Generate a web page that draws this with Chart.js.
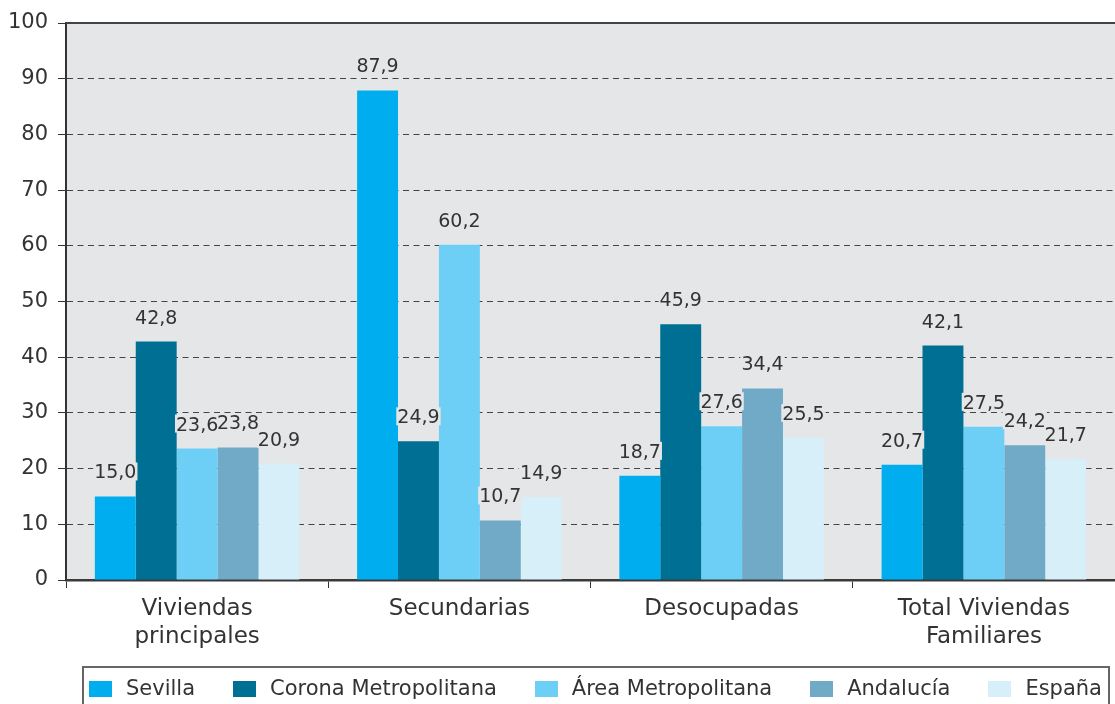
<!DOCTYPE html>
<html>
<head>
<meta charset="utf-8">
<script src="https://cdn.jsdelivr.net/npm/chart.js@4"></script>
<style>
    body { margin: 0; background: #fff; }
    #wrap { position: relative; width: 1115px; height: 704px; overflow: hidden; }
    #legend {
        position: absolute; left: 82px; top: 666px; width: 1028px; height: 50px;
        box-sizing: border-box; border: 2px solid #666;
        display: flex; justify-content: space-between; align-items: flex-start;
        padding: 8px 6px 0 5px;
        font: 21px 'DejaVu Sans', sans-serif; color: #333; line-height: 25px;
    }
    #legend .item { display: flex; align-items: center; white-space: nowrap; }
    #legend .box { width: 23px; height: 16px; margin-right: 14px; }
</style>
</head>
<body>
<div id="wrap">
    <canvas id="chart" width="1115" height="704"></canvas>
    <div id="legend"></div>
</div>
<script>
// Data
const categories = [["Viviendas", "principales"], "Secundarias", "Desocupadas", ["Total Viviendas", "Familiares"]];
const seriesNames = ["Sevilla", "Corona Metropolitana", "Área Metropolitana", "Andalucía", "España"];
const sevilla = [15.0, 87.9, 18.7, 20.7];
const corona = [42.8, 24.9, 45.9, 42.1];
const areaMetro = [23.6, 60.2, 27.6, 27.5];
const andalucia = [23.8, 10.7, 34.4, 24.2];
const espana = [20.9, 14.9, 25.5, 21.7];
const seriesColors = ["#00aeef", "#006f94", "#6dcff6", "#70aac6", "#d7eff9"];

const plotBg = "#e5e6e8";
const textColor = "#333333";
const fontFamily = "'DejaVu Sans', sans-serif";

const seriesValues = [sevilla, corona, areaMetro, andalucia, espana];

// plot background + top border
const plotArea = {
    id: "plotArea",
    beforeDraw(chart) {
        const { ctx, chartArea: a } = chart;
        ctx.save();
        ctx.fillStyle = plotBg;
        ctx.fillRect(a.left, a.top, a.right - a.left, a.bottom - a.top);
        ctx.restore();
    },
    afterDraw(chart) {
        const { ctx, chartArea: a } = chart;
        ctx.save();
        ctx.strokeStyle = "#444";
        ctx.lineWidth = 2;
        ctx.beginPath();
        ctx.moveTo(a.left, a.top);
        ctx.lineTo(a.right, a.top);
        ctx.stroke();
        ctx.restore();
    }
};

// value labels above bars, with a grey backing
const valueLabels = {
    id: "valueLabels",
    afterDatasetsDraw(chart) {
        const ctx = chart.ctx;
        const labels = [];
        chart.data.datasets.forEach((ds, i) => {
            chart.getDatasetMeta(i).data.forEach((bar, j) => {
                labels.push({ x: bar.x, y: bar.y - 18, text: ds.data[j].toFixed(1).replace(".", ",") });
            });
        });
        ctx.save();
        ctx.font = "19px " + fontFamily;
        ctx.textAlign = "center";
        ctx.textBaseline = "alphabetic";
        ctx.fillStyle = plotBg;
        labels.forEach(l => {
            const w = ctx.measureText(l.text).width;
            ctx.fillRect(l.x - w / 2 - 1, l.y - 16, w + 2, 18);
        });
        ctx.fillStyle = textColor;
        labels.forEach(l => ctx.fillText(l.text, l.x, l.y));
        ctx.restore();
    }
};

// legend built from the same names and colours
const legendEl = document.getElementById("legend");
seriesNames.forEach((name, i) => {
    const item = document.createElement("span");
    item.className = "item";
    const box = document.createElement("span");
    box.className = "box";
    box.style.background = seriesColors[i];
    item.appendChild(box);
    item.appendChild(document.createTextNode(name));
    legendEl.appendChild(item);
});

new Chart(document.getElementById("chart"), {
    type: "bar",
    data: {
        labels: categories,
        datasets: seriesNames.map((name, i) => ({
            label: name,
            data: seriesValues[i],
            backgroundColor: seriesColors[i],
            borderWidth: 0,
            categoryPercentage: 0.78,
            barPercentage: 1
        }))
    },
    options: {
        responsive: false,
        animation: false,
        layout: { padding: { top: 23, right: 0, left: 0, bottom: 41 } },
        plugins: {
            legend: { display: false },
            tooltip: { enabled: false }
        },
        scales: {
            x: {
                grid: { drawOnChartArea: false, drawTicks: true, tickLength: 8, color: "#333", offset: true },
                border: { display: true, color: "#3a3a3a", width: 2.5 },
                ticks: {
                    color: textColor,
                    padding: 7,
                    maxRotation: 0,
                    font: { family: fontFamily, size: 23, lineHeight: 1.22 }
                },
                afterFit(scale) { scale.height = 83; }
            },
            y: {
                min: 0,
                max: 100,
                ticks: {
                    stepSize: 10,
                    color: textColor,
                    padding: 10,
                    font: { family: fontFamily, size: 21 }
                },
                grid: {
                    color: "#444",
                    lineWidth: 1,
                    tickLength: 8,
                    tickColor: "#333",
                    tickBorderDash: [],
                    drawTicks: true
                },
                border: { display: true, color: "#333", width: 2, dash: [6, 4.5] },
                afterFit(scale) { scale.width = 66; }
            }
        }
    },
    plugins: [plotArea, valueLabels]
});
</script>
</body>
</html>
